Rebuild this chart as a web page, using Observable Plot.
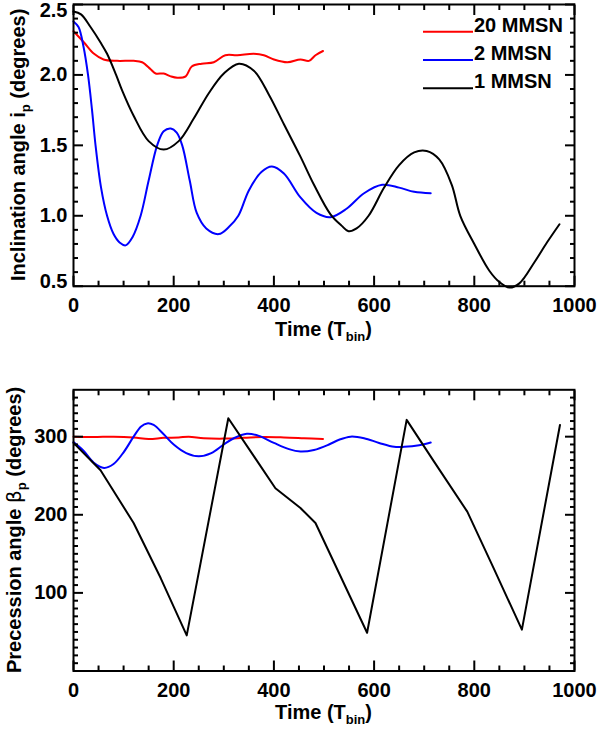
<!DOCTYPE html>
<html><head><meta charset="utf-8">
<script src="https://cdn.jsdelivr.net/npm/d3@7"></script>
<script src="https://cdn.jsdelivr.net/npm/@observablehq/plot@0.6"></script>
<style>
body{margin:0;background:#fff;}
#chart{width:598px;height:731px;}
svg{display:block;}
</style></head><body><div id="chart"></div>
<script>
// ---- data ----
const seriesNames = ["20 MMSN", "2 MMSN", "1 MMSN"];
const seriesColors = ["#ff0000", "#0000ff", "#000000"];

const xTickValues = [0, 200, 400, 600, 800, 1000];
const incTickValues = [0.5, 1.0, 1.5, 2.0, 2.5];
const precTickValues = [100, 200, 300];

// Inclination (top)
const inc20T = [0,21,41,60,87,120,137,154,164,180,194,207,224,236,256,280,303,327,360,380,400,427,453,470,483,498];
const inc20V = [2.31,2.23,2.15,2.11,2.10,2.10,2.09,2.04,2.01,2.01,1.99,1.98,1.99,2.06,2.08,2.09,2.14,2.14,2.15,2.14,2.11,2.09,2.11,2.10,2.14,2.17];

const inc2T = [0,10,20,29,37,44,55,67,80,92,104,118,134,150,167,180,194,206,217,232,246,265,290,310,329,350,375,396,420,453,485,513,545,580,616,650,680,713];
const inc2V = [2.38,2.34,2.20,2.00,1.75,1.50,1.20,1.00,0.87,0.81,0.79,0.85,1.00,1.25,1.50,1.60,1.62,1.59,1.50,1.25,1.02,0.91,0.87,0.92,1.00,1.18,1.31,1.35,1.30,1.13,1.02,0.99,1.05,1.16,1.22,1.20,1.17,1.16];

const inc1T = [0,15,34,54,67,85,97,120,150,180,210,240,270,300,330,360,390,420,453,480,513,535,549,565,589,620,650,680,705,730,755,772,800,830,850,870,890,920,945,970];
const inc1V = [2.45,2.43,2.34,2.23,2.15,2.00,1.89,1.71,1.53,1.47,1.53,1.69,1.87,2.01,2.08,2.03,1.86,1.65,1.42,1.22,1.01,0.93,0.89,0.91,1.00,1.20,1.36,1.45,1.46,1.40,1.22,1.00,0.80,0.61,0.53,0.49,0.52,0.67,0.81,0.94];

// Precession (bottom)
const prec20T = [0,40,80,120,150,180,210,230,260,300,340,380,420,460,498];
const prec20V = [300,299.5,300,299,297,298.5,299,300,298,297.5,298.5,299.5,299,298,297];

const prec2T = [0,20,40,61,80,100,120,135,147,160,180,200,225,250,275,300,320,346,370,400,430,453,480,510,530,553,580,610,640,660,690,713];
const prec2V = [293,282,267,260,265,280,300,313,317,315,303,290,279,275,279,290,298,303.6,301,292,284,281,283,290,296,300,298,292,287,287,289,292.5];

const prec1T = [0,54,120,174,226,309,403,453,483,586,665,719,786,839,895,971];
const prec1V = [292,257,189.5,119,45.6,323.6,234,208.7,189.5,49,321.5,268.7,204,131,53,315];

// ---- helpers ----
const W = 598, mL = 73, mR = 24;
const FONT = "'Liberation Sans', Arial, Helvetica, sans-serif";
const rows = (T, V, name) => T.map((t, i) => ({t, v: V[i], name}));

function panel({height, mT, mB, yDomain, yTicks, yMinor, yFmt, yLabelGroups, series, curves}) {
  const xMinor = d3.range(0, 1001, 50).filter(d => d % 200 !== 0);
  const marks = [];
  series.forEach((s, i) => {
    marks.push(Plot.line(s.data, {x: "t", y: "v", stroke: s.color, strokeWidth: 2, curve: curves[i]}));
  });
  const tickStyle = {fill: "none", label: null, strokeWidth: 2};
  marks.push(
    Plot.frame({stroke: "black", strokeWidth: 2}),
    Plot.axisX(xTickValues, {anchor: "bottom", tickSize: -10, ...tickStyle}),
    Plot.axisX(xMinor, {anchor: "bottom", tickSize: -5, ...tickStyle}),
    Plot.axisX(xTickValues, {anchor: "top", tickSize: -10, ...tickStyle}),
    Plot.axisX(xMinor, {anchor: "top", tickSize: -5, ...tickStyle}),
    Plot.axisY(yTicks, {anchor: "left", tickSize: -10, ...tickStyle}),
    Plot.axisY(yMinor, {anchor: "left", tickSize: -5, ...tickStyle}),
    Plot.axisY(yTicks, {anchor: "right", tickSize: -10, ...tickStyle}),
    Plot.axisY(yMinor, {anchor: "right", tickSize: -5, ...tickStyle}),
    Plot.axisX(xTickValues, {anchor: "bottom", tickSize: 0, tickPadding: 12, label: null, tickFormat: d => String(d)})
  );
  yLabelGroups.forEach(g => {
    marks.push(Plot.axisY(g.ticks, {anchor: "left", tickSize: 0, tickPadding: 6, label: null, tickFormat: yFmt, dy: g.dy}));
  });
  return Plot.plot({
    width: W, height,
    marginTop: mT, marginBottom: mB, marginLeft: mL, marginRight: mR,
    x: {domain: [0, 1000], nice: false},
    y: {domain: yDomain, nice: false},
    style: {fontFamily: FONT, fontSize: "20px", fontWeight: "bold", color: "black", background: "white", overflow: "visible"},
    marks
  });
}

function addXTitle(svg, x, y) {
  const t = d3.select(svg).append("text")
    .attr("x", x).attr("y", y).attr("text-anchor", "middle")
    .attr("font-family", FONT).attr("font-size", 20).attr("font-weight", "bold").attr("fill", "black");
  t.append("tspan").text("Time (T");
  t.append("tspan").attr("font-size", 13).attr("dy", 5).text("bin");
  t.append("tspan").attr("dy", -5).text(")");
}

function addYTitle(svg, x, y, main, sym, sub, symFont) {
  const t = d3.select(svg).append("text")
    .attr("transform", `translate(${x},${y}) rotate(-90)`).attr("text-anchor", "middle")
    .attr("font-family", FONT).attr("font-size", 20).attr("font-weight", "bold").attr("fill", "black");
  t.append("tspan").text(main);
  if (sym) {
    const s = t.append("tspan").text(sym);
    if (symFont) s.attr("font-family", symFont).attr("font-weight", "normal");
  }
  t.append("tspan").attr("font-size", 13).attr("dy", 5).text(sub);
  t.append("tspan").attr("dy", -5).text(" (degrees)");
}

const chart = document.getElementById("chart");

// ---- top panel ----
const H1 = 345, top_mT = 4, top_mB = 59.3;
const topSvg = panel({
  height: H1, mT: top_mT, mB: top_mB,
  yDomain: [0.5, 2.5], yTicks: incTickValues,
  yMinor: d3.range(6, 25).map(d => d / 10).filter(d => Math.round(d * 10) % 5 !== 0),
  yFmt: d3.format(".1f"),
  yLabelGroups: [{ticks: [1.0, 1.5, 2.0], dy: 0}, {ticks: [2.5], dy: 6}, {ticks: [0.5], dy: -5}],
  series: [
    {data: rows(inc20T, inc20V, seriesNames[0]), color: seriesColors[0]},
    {data: rows(inc2T, inc2V, seriesNames[1]), color: seriesColors[1]},
    {data: rows(inc1T, inc1V, seriesNames[2]), color: seriesColors[2]}
  ],
  curves: ["catmull-rom", "catmull-rom", "catmull-rom"]
});
chart.appendChild(topSvg);
addXTitle(topSvg, (mL + W - mR) / 2, 336);
addYTitle(topSvg, 25, (top_mT + H1 - top_mB) / 2, "Inclination angle i", null, "p");

// legend
const lg = d3.select(topSvg).append("g").attr("font-family", FONT).attr("font-size", 20)
  .attr("font-weight", "bold").attr("text-anchor", "start");
seriesNames.forEach((name, i) => {
  const y = 31.7 + 28.3 * i;
  lg.append("line").attr("x1", 423).attr("x2", 473).attr("y1", y).attr("y2", y)
    .attr("stroke", seriesColors[i]).attr("stroke-width", 2);
  lg.append("text").attr("x", 474).attr("y", y).attr("fill", "black").text(name);
});

// ---- bottom panel ----
const H2 = 386, bot_mT = 44.3, bot_mB = 60.5;
const botSvg = panel({
  height: H2, mT: bot_mT, mB: bot_mB,
  yDomain: [0, 360], yTicks: precTickValues,
  yMinor: d3.range(10, 360, 10).filter(d => d % 100 !== 0),
  yFmt: d => String(d),
  yLabelGroups: [{ticks: precTickValues, dy: 0}],
  series: [
    {data: rows(prec20T, prec20V, seriesNames[0]), color: seriesColors[0]},
    {data: rows(prec2T, prec2V, seriesNames[1]), color: seriesColors[1]},
    {data: rows(prec1T, prec1V, seriesNames[2]), color: seriesColors[2]}
  ],
  curves: ["catmull-rom", "catmull-rom", "linear"]
});
chart.appendChild(botSvg);
addXTitle(botSvg, (mL + W - mR) / 2, 718.5 - H1);
addYTitle(botSvg, 21, (bot_mT + H2 - bot_mB) / 2, "Precession angle ", "β", "p", "'DejaVu Sans'");
</script>
</body></html>
